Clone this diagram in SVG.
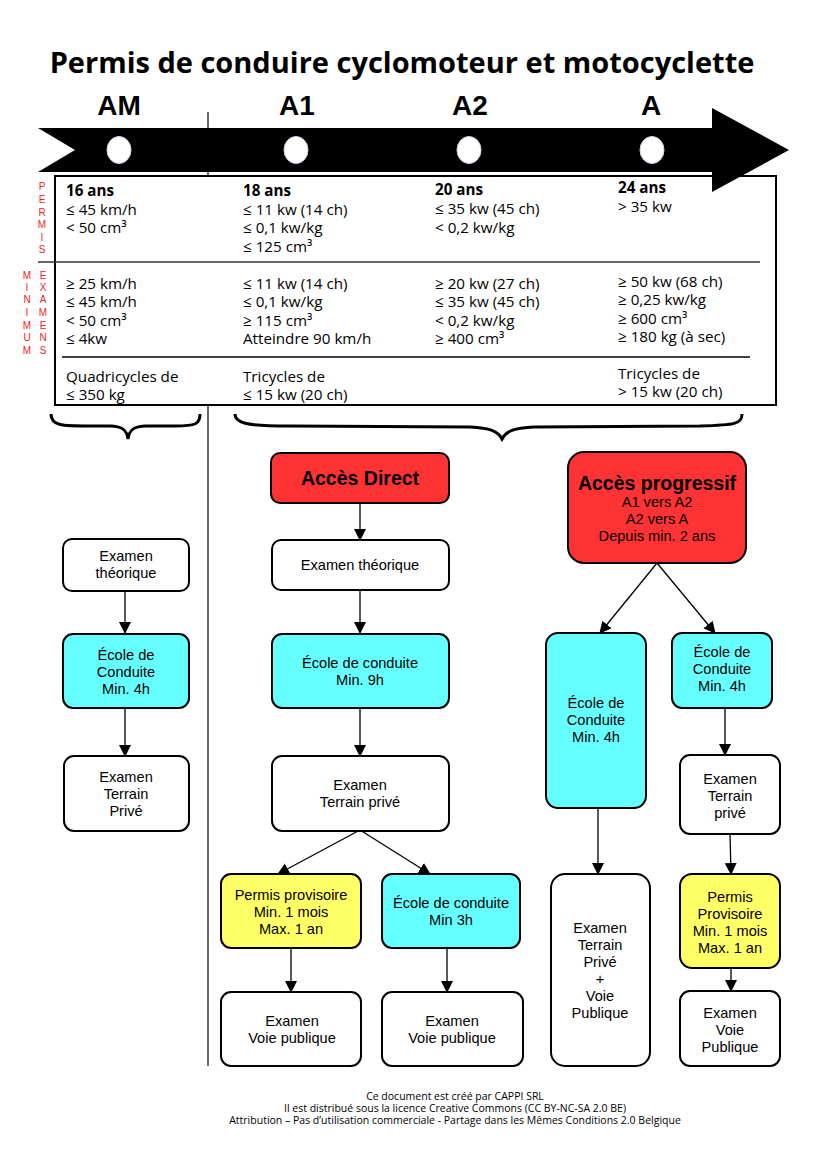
<svg xmlns="http://www.w3.org/2000/svg" width="826" height="1169" viewBox="0 0 826 1169">
<defs>
<marker id="ah" markerWidth="12" markerHeight="16" refX="11" refY="6" orient="auto" markerUnits="userSpaceOnUse" viewBox="0 0 12 12">
<path d="M0,0 L12,6 L0,12 Z" fill="#000"/>
</marker>
<style>
.title{font-family:"Open Sans","DejaVu Sans",sans-serif;font-weight:bold;font-size:29px;fill:#000}
.cat{font-family:"Liberation Sans Narrow","Liberation Sans",sans-serif;font-weight:bold;font-size:28px;fill:#000}
.t{font-family:"Open Sans","DejaVu Sans",sans-serif;font-size:15.2px;fill:#000}
.tb{font-family:"Open Sans","DejaVu Sans",sans-serif;font-size:15.2px;font-weight:bold;fill:#000}
.side{font-family:"Liberation Sans",Arial,sans-serif;font-size:10px;fill:#e8262a;text-anchor:middle}
.box{stroke:#000;stroke-width:2}
.w{fill:#fff}.c{fill:#66ffff}.y{fill:#ffff66}.r{fill:#ff3333}
.n{font-family:"Liberation Sans",Arial,sans-serif;font-size:14.6px;fill:#000;text-anchor:middle}
.nb{font-family:"Liberation Sans",Arial,sans-serif;font-size:19.5px;font-weight:bold;fill:#000;text-anchor:middle}
.ft{font-family:"Open Sans","DejaVu Sans",sans-serif;font-size:10.5px;fill:#000;text-anchor:middle}
.con{stroke:#000;stroke-width:1.3;fill:none;marker-end:url(#ah)}
</style>
</defs>
<rect width="826" height="1169" fill="#fff"/>

<text class="title" x="402" y="73" text-anchor="middle">Permis de conduire cyclomoteur et motocyclette</text>

<g id="categories">
<text class="cat" x="119" y="115" text-anchor="middle">AM</text>
<text class="cat" x="297" y="115" text-anchor="middle">A1</text>
<text class="cat" x="470" y="115" text-anchor="middle">A2</text>
<text class="cat" x="651" y="115" text-anchor="middle">A</text>
</g>

<line x1="208" y1="112" x2="208" y2="1066" stroke="#000" stroke-width="1.2"/>

<g id="table">
<rect x="55" y="176" width="721" height="229" fill="#fff" stroke="#000" stroke-width="2"/>
<line x1="38" y1="262" x2="760" y2="262" stroke="#333" stroke-width="1.5"/>
<line x1="62" y1="357" x2="750" y2="357" stroke="#000" stroke-width="1.3"/>
<g>
<text class="tb" x="66" y="196">16 ans</text>
<text class="t" x="66" y="215">≤ 45 km/h</text>
<text class="t" x="66" y="233">&lt; 50 cm³</text>
<text class="tb" x="243" y="196">18 ans</text>
<text class="t" x="243" y="215">≤ 11 kw (14 ch)</text>
<text class="t" x="243" y="233">≤ 0,1 kw/kg</text>
<text class="t" x="243" y="252">≤ 125 cm³</text>
<text class="tb" x="435" y="195">20 ans</text>
<text class="t" x="435" y="214">≤ 35 kw (45 ch)</text>
<text class="t" x="435" y="233">&lt; 0,2 kw/kg</text>
<text class="tb" x="618" y="193">24 ans</text>
<text class="t" x="618" y="212">&gt; 35 kw</text>
</g>
<g>
<text class="t" x="66" y="289">≥ 25 km/h</text>
<text class="t" x="66" y="307">≤ 45 km/h</text>
<text class="t" x="66" y="326">&lt; 50 cm³</text>
<text class="t" x="66" y="344">≤ 4kw</text>
<text class="t" x="243" y="289">≤ 11 kw (14 ch)</text>
<text class="t" x="243" y="307">≤ 0,1 kw/kg</text>
<text class="t" x="243" y="326">≥ 115 cm³</text>
<text class="t" x="243" y="344">Atteindre 90 km/h</text>
<text class="t" x="435" y="289">≥ 20 kw (27 ch)</text>
<text class="t" x="435" y="307">≤ 35 kw (45 ch)</text>
<text class="t" x="435" y="326">&lt; 0,2 kw/kg</text>
<text class="t" x="435" y="344">≥ 400 cm³</text>
<text class="t" x="618" y="287">≥ 50 kw (68 ch)</text>
<text class="t" x="618" y="305">≥ 0,25 kw/kg</text>
<text class="t" x="618" y="324">≥ 600 cm³</text>
<text class="t" x="618" y="342">≥ 180 kg (à sec)</text>
</g>
<g>
<text class="t" x="66" y="382">Quadricycles de</text>
<text class="t" x="66" y="400">≤ 350 kg</text>
<text class="t" x="243" y="382">Tricycles de</text>
<text class="t" x="243" y="400">≤ 15 kw (20 ch)</text>
<text class="t" x="618" y="379">Tricycles de</text>
<text class="t" x="618" y="397">&gt; 15 kw (20 ch)</text>
</g>
<g>
<text class="side" x="42" y="190">P</text>
<text class="side" x="42" y="203">E</text>
<text class="side" x="42" y="216">R</text>
<text class="side" x="42" y="228">M</text>
<text class="side" x="42" y="241">I</text>
<text class="side" x="42" y="253">S</text>
<text class="side" x="27" y="279">M</text>
<text class="side" x="27" y="291">I</text>
<text class="side" x="27" y="303">N</text>
<text class="side" x="27" y="316">I</text>
<text class="side" x="27" y="329">M</text>
<text class="side" x="27" y="341">U</text>
<text class="side" x="27" y="354">M</text>
<text class="side" x="43" y="279">E</text>
<text class="side" x="43" y="291">X</text>
<text class="side" x="43" y="303">A</text>
<text class="side" x="43" y="316">M</text>
<text class="side" x="43" y="329">E</text>
<text class="side" x="43" y="341">N</text>
<text class="side" x="43" y="354">S</text>
</g>
</g>

<g id="timeline">
<path d="M38,128 L712,128 L712,108 L789,150 L712,192 L712,172 L38,172 L75,150 Z" fill="#000"/>
<ellipse cx="119" cy="150" rx="12" ry="13.5" fill="#fff" stroke="#cfd8ea" stroke-width="1"/>
<ellipse cx="296" cy="150" rx="12" ry="13.5" fill="#fff" stroke="#cfd8ea" stroke-width="1"/>
<ellipse cx="469" cy="150" rx="12" ry="13.5" fill="#fff" stroke="#cfd8ea" stroke-width="1"/>
<ellipse cx="652" cy="150" rx="12" ry="13.5" fill="#fff" stroke="#cfd8ea" stroke-width="1"/>
</g>

<g id="braces" fill="none" stroke="#000" stroke-width="3">
<path d="M51,414 C51,426 62,426 90,426 L110,426 C122,426 127,430 128,439 C129,430 134,426 146,426 L175,426 C196,426 200,424 200,414"/>
<path d="M235,414 C235,424 250,426 290,426 L470,427 C490,428 498,431 502,439 C506,431 514,428 534,427 L700,426 C735,425 742,424 742,414"/>
</g>

<g id="connectors">
<line class="con" x1="125" y1="591" x2="125" y2="633"/>
<line class="con" x1="125" y1="708" x2="125" y2="756"/>
<line class="con" x1="360" y1="503" x2="360" y2="540"/>
<line class="con" x1="360" y1="590" x2="360" y2="633"/>
<line class="con" x1="360" y1="708" x2="360" y2="756"/>
<line class="con" x1="360" y1="830" x2="278" y2="874"/>
<line class="con" x1="360" y1="830" x2="430" y2="874"/>
<line class="con" x1="291" y1="948" x2="291" y2="992"/>
<line class="con" x1="447" y1="948" x2="447" y2="992"/>
<line class="con" x1="657" y1="563" x2="600" y2="633"/>
<line class="con" x1="657" y1="563" x2="715" y2="633"/>
<line class="con" x1="598" y1="808" x2="598" y2="874"/>
<line class="con" x1="725" y1="708" x2="725" y2="755"/>
<line class="con" x1="730" y1="834" x2="731" y2="874"/>
<line class="con" x1="731" y1="968" x2="731" y2="991"/>
</g>

<g id="am-exam-theo">
<rect class="box w" x="63" y="539" width="126" height="52" rx="9"/>
<text class="n" x="126" y="561">Examen</text>
<text class="n" x="126" y="578">théorique</text>
</g>
<g id="am-ecole">
<rect class="box c" x="63" y="634" width="126" height="74" rx="10"/>
<text class="n" x="126" y="660">École de</text>
<text class="n" x="126" y="677">Conduite</text>
<text class="n" x="126" y="694">Min. 4h</text>
</g>
<g id="am-terrain">
<rect class="box w" x="64" y="756" width="125" height="75" rx="10"/>
<text class="n" x="126" y="782">Examen</text>
<text class="n" x="126" y="799">Terrain</text>
<text class="n" x="126" y="816">Privé</text>
</g>

<g id="acces-direct">
<rect class="box r" x="271" y="453" width="178" height="50" rx="9"/>
<text class="nb" x="360" y="485">Accès Direct</text>
</g>
<g id="ad-exam-theo">
<rect class="box w" x="272" y="540" width="177" height="50" rx="9"/>
<text class="n" x="360" y="570">Examen théorique</text>
</g>
<g id="ad-ecole">
<rect class="box c" x="272" y="634" width="177" height="74" rx="10"/>
<text class="n" x="360" y="668">École de conduite</text>
<text class="n" x="360" y="685">Min. 9h</text>
</g>
<g id="ad-terrain">
<rect class="box w" x="272" y="756" width="177" height="75" rx="10"/>
<text class="n" x="360" y="790">Examen</text>
<text class="n" x="360" y="807">Terrain privé</text>
</g>
<g id="ad-permis-prov">
<rect class="box y" x="221" y="874" width="140" height="74" rx="10"/>
<text class="n" x="291" y="900">Permis provisoire</text>
<text class="n" x="291" y="917">Min. 1 mois</text>
<text class="n" x="291" y="934">Max. 1 an</text>
</g>
<g id="ad-ecole-3h">
<rect class="box c" x="382" y="874" width="138" height="74" rx="10"/>
<text class="n" x="451" y="908">École de conduite</text>
<text class="n" x="451" y="925">Min 3h</text>
</g>
<g id="ad-voie-1">
<rect class="box w" x="221" y="992" width="140" height="74" rx="10"/>
<text class="n" x="292" y="1026">Examen</text>
<text class="n" x="292" y="1043">Voie publique</text>
</g>
<g id="ad-voie-2">
<rect class="box w" x="382" y="992" width="141" height="74" rx="10"/>
<text class="n" x="452" y="1026">Examen</text>
<text class="n" x="452" y="1043">Voie publique</text>
</g>

<g id="acces-progressif">
<rect class="box r" x="568" y="452" width="178" height="111" rx="16"/>
<text class="nb" x="657" y="490">Accès progressif</text>
<text class="n" x="657" y="507">A1 vers A2</text>
<text class="n" x="657" y="524">A2 vers A</text>
<text class="n" x="657" y="541">Depuis min. 2 ans</text>
</g>
<g id="ap-ecole-1">
<rect class="box c" x="546" y="633" width="100" height="175" rx="12"/>
<text class="n" x="596" y="708">École de</text>
<text class="n" x="596" y="725">Conduite</text>
<text class="n" x="596" y="742">Min. 4h</text>
</g>
<g id="ap-ecole-2">
<rect class="box c" x="672" y="633" width="100" height="75" rx="10"/>
<text class="n" x="722" y="657">École de</text>
<text class="n" x="722" y="674">Conduite</text>
<text class="n" x="722" y="691">Min. 4h</text>
</g>
<g id="ap-terrain">
<rect class="box w" x="680" y="755" width="100" height="79" rx="10"/>
<text class="n" x="730" y="784">Examen</text>
<text class="n" x="730" y="801">Terrain</text>
<text class="n" x="730" y="818">privé</text>
</g>
<g id="ap-terrain-voie">
<rect class="box w" x="551" y="874" width="99" height="192" rx="14"/>
<text class="n" x="600" y="933">Examen</text>
<text class="n" x="600" y="950">Terrain</text>
<text class="n" x="600" y="967">Privé</text>
<text class="n" x="600" y="984">+</text>
<text class="n" x="600" y="1001">Voie</text>
<text class="n" x="600" y="1018">Publique</text>
</g>
<g id="ap-permis-prov">
<rect class="box y" x="680" y="874" width="100" height="94" rx="12"/>
<text class="n" x="730" y="902">Permis</text>
<text class="n" x="730" y="919">Provisoire</text>
<text class="n" x="730" y="936">Min. 1 mois</text>
<text class="n" x="730" y="953">Max. 1 an</text>
</g>
<g id="ap-voie">
<rect class="box w" x="680" y="991" width="100" height="75" rx="10"/>
<text class="n" x="730" y="1018">Examen</text>
<text class="n" x="730" y="1035">Voie</text>
<text class="n" x="730" y="1052">Publique</text>
</g>

<g id="footer">
<text class="ft" x="455" y="1100">Ce document est créé par CAPPI SRL</text>
<text class="ft" x="455" y="1112">Il est distribué sous la licence Creative Commons (CC BY-NC-SA 2.0 BE)</text>
<text class="ft" x="455" y="1124">Attribution – Pas d’utilisation commerciale - Partage dans les Mêmes Conditions 2.0 Belgique</text>
</g>
</svg>
